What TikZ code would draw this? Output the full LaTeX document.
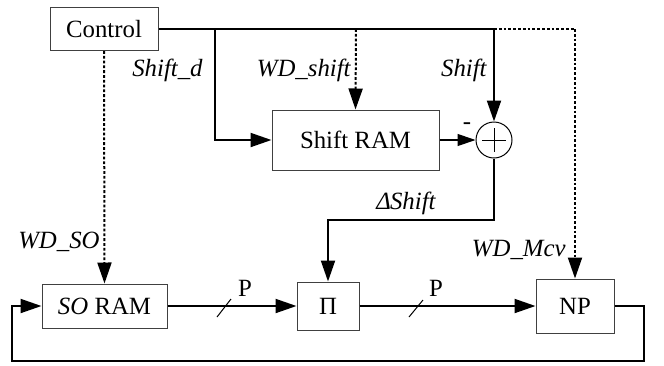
\documentclass[tikz,border=0pt]{standalone}
\usepackage{fontspec}
\setmainfont{Liberation Serif}
\usetikzlibrary{arrows.meta,positioning,calc}
\begin{document}
\begin{tikzpicture}[x=0.5pt,y=-0.5pt,
  font=\fontsize{12.4}{14}\selectfont,
  blk/.style={draw=black!75,line width=0.5pt,inner sep=0pt,minimum width=#1},
  wire/.style={line width=1pt},
  thin wire/.style={line width=0.6pt},
  dots/.style={line width=1pt,dash pattern=on 1.4pt off 1pt},
  tip/.style={-{Triangle[length=10.5pt,width=7pt]}},
  smalltip/.style={-{Triangle[length=9pt,width=6pt]}},
  lbl/.style={font=\fontsize{12.4}{14}\selectfont\itshape,inner sep=0pt}]
\useasboundingbox (0,0) rectangle (664,365);

\node[blk=54pt,minimum height=21.5pt] (ctrl) at (104,29) {Control};
\node[blk=83.5pt,minimum height=30pt] (sram) at (355.5,140) {Shift RAM};
\node[draw,circle,line width=0.5pt,minimum size=18pt,inner sep=0pt] (sum) at (494,140) {};
\draw[line width=0.5pt] ($(sum.center)+(-12,0)$) -- ($(sum.center)+(12,0)$)
  ($(sum.center)+(0,-12)$) -- ($(sum.center)+(0,12)$);
\node[blk=62.5pt,minimum height=22pt] (so) at (104.5,306) {\textit{SO} RAM};
\node[blk=31pt,minimum height=24pt] (pi) at (328,306) {Π};
\node[blk=39pt,minimum height=27pt] (np) at (575,306) {NP};

\coordinate (j1) at (215,29);
\coordinate (j2) at (356,29);
\coordinate (j3) at (494,29);
\coordinate (j4) at (575,29);
\coordinate (fbR) at (644,306);
\coordinate (fbRb) at (644,361);
\coordinate (fbLb) at (12,361);
\coordinate (fbL) at (12,306);

% control bus
\draw[wire] (ctrl.east) -- (j3);
\draw[dots] (j3) -- (j4);
\draw[wire,tip] (j1) |- (sram.west);
\draw[dots,tip] (j2) -- (sram.north);
\draw[wire,tip] (j3) -- (sum.north);
\draw[dots,tip] (j4) -- (np.north);
\draw[dots,tip] (ctrl.south) -- (so.north);

\draw[thin wire,smalltip] (sram.east) -- (sum.west);
\draw[wire,tip] (sum.south) |- (328,220) -- (pi.north);

% data path
\draw[wire,tip] (so.east) -- (pi.west);
\draw[wire,tip] (pi.east) -- (np.west);
\draw[wire,tip] (np.east) -- (fbR) -- (fbRb) -- (fbLb) -- (fbL) -- (so.west);

% bus-width slashes
\draw[line width=0.5pt] (217,317) -- (231,299);
\draw[line width=0.5pt] (409,317) -- (423,300);
\node[inner sep=0pt] (p1) at (245,288) {P};
\node[inner sep=0pt] (p2) at (436,288) {P};

% labels
\node[lbl,anchor=east] (l1) at (203,70) {Shift\_d};
\node[lbl,anchor=east] (l2) at (351,70) {WD\_shift};
\node[lbl,anchor=east] (l3) at (487,70) {Shift};
\node[inner sep=0pt] (l4) at (467,126) {-};
\node[lbl] (l5) at (406,203) {Δ\kern-0.5pt Shift};
\node[lbl,anchor=east] (l6) at (100,242) {WD\_SO};
\node[lbl,anchor=east] (l7) at (566,250) {WD\_Mcv};
\end{tikzpicture}
\end{document}
